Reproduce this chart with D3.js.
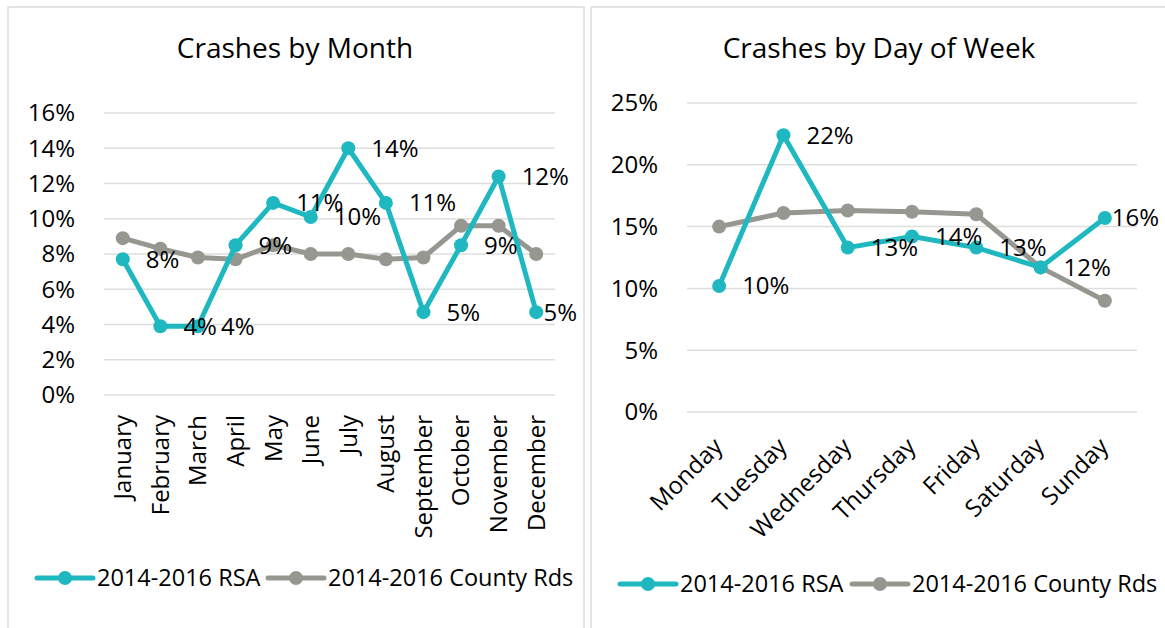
<!DOCTYPE html>
<html>
<head>
<meta charset="utf-8">
<script src="https://cdn.jsdelivr.net/npm/d3@7"></script>
<style>
  body { margin: 0; background: #fff; }
  svg text { font-family: "Open Sans", sans-serif; fill: #000; }
</style>
</head>
<body>
<svg id="chart" width="1165" height="628"></svg>
<script>
const months = ['January', 'February', 'March', 'April', 'May', 'June', 'July', 'August', 'September', 'October', 'November', 'December'];
const monthRSA = [7.7, 3.9, 3.9, 8.5, 10.9, 10.1, 14.0, 10.9, 4.7, 8.5, 12.4, 4.7];
const monthCounty = [8.9, 8.3, 7.8, 7.7, 8.5, 8.0, 8.0, 7.7, 7.8, 9.6, 9.6, 8.0];
const monthTicks = [0, 2, 4, 6, 8, 10, 12, 14, 16];

const days = ['Monday', 'Tuesday', 'Wednesday', 'Thursday', 'Friday', 'Saturday', 'Sunday'];
const dayRSA = [10.2, 22.4, 13.3, 14.2, 13.3, 11.7, 15.7];
const dayCounty = [15.0, 16.1, 16.3, 16.2, 16.0, 11.7, 9.0];
const dayTicks = [0, 5, 10, 15, 20, 25];

const seriesNames = ['2014-2016 RSA', '2014-2016 County Rds'];
const TEAL = '#1fb8c1';
const GRAY = '#979791';

const svg = d3.select('#chart');

// panel frames
svg.append('rect').attr('x', 8).attr('y', 7).attr('width', 576).attr('height', 640)
  .attr('fill', 'none').attr('stroke', '#dcdcdc').attr('stroke-width', 1.5);
svg.append('rect').attr('x', 591).attr('y', 7).attr('width', 600).attr('height', 640)
  .attr('fill', 'none').attr('stroke', '#dcdcdc').attr('stroke-width', 1.5);

function drawChart(cfg) {
  const g = svg.append('g');
  const x = d3.scaleBand().domain(cfg.categories).range([cfg.left, cfg.right]).padding(0);
  const y = d3.scaleLinear().domain([0, d3.max(cfg.ticks)]).range([cfg.bottom, cfg.top]);
  const cx = d => x(d) + x.bandwidth() / 2;

  g.append('text').attr('x', cfg.titleX).attr('y', 58).attr('text-anchor', 'middle')
    .style('font-size', '28px').text(cfg.title);

  // gridlines + y labels
  g.selectAll('.grid').data(cfg.ticks).enter().append('line')
    .attr('x1', cfg.left).attr('x2', cfg.right)
    .attr('y1', d => y(d)).attr('y2', d => y(d))
    .attr('stroke', '#dedede').attr('stroke-width', 1.5);
  g.selectAll('.ylab').data(cfg.ticks).enter().append('text')
    .attr('x', cfg.yLabelX).attr('y', d => y(d)).attr('dy', '0.35em')
    .attr('text-anchor', 'end').style('font-size', '24px')
    .text(d => d + '%');

  // category labels
  g.selectAll('.xlab').data(cfg.categories).enter().append('text')
    .attr('transform', d => `translate(${cx(d) + cfg.xLabDx},${cfg.xLabY}) rotate(${cfg.rotate})`)
    .attr('dy', '0.35em').attr('text-anchor', 'end').style('font-size', '24px')
    .text(d => d);

  const line = d3.line().x((d, i) => cx(cfg.categories[i])).y(d => y(d));
  const series = [
    { values: cfg.county, color: GRAY },
    { values: cfg.rsa, color: TEAL }
  ];
  series.forEach(s => {
    g.append('path').datum(s.values).attr('d', line)
      .attr('fill', 'none').attr('stroke', s.color).attr('stroke-width', 5)
      .attr('stroke-linejoin', 'round').attr('stroke-linecap', 'round');
    g.selectAll(null).data(s.values).enter().append('circle')
      .attr('cx', (d, i) => cx(cfg.categories[i])).attr('cy', d => y(d))
      .attr('r', 7).attr('fill', s.color);
  });

  // data labels on the RSA series
  g.selectAll('.dlab').data(cfg.rsa).enter().append('text')
    .attr('y', d => y(d)).attr('dy', '0.35em').style('font-size', '24px')
    .text(d => Math.round(d) + '%')
    .attr('x', function (d, i) {
      const w = this.getComputedTextLength();
      return Math.min(cx(cfg.categories[i]) + 23, cfg.labelMax - w);
    });

  // legend
  const items = [
    { name: seriesNames[0], color: TEAL, x: cfg.legendX[0] },
    { name: seriesNames[1], color: GRAY, x: cfg.legendX[1] }
  ];
  items.forEach(it => {
    const lg = g.append('g').attr('transform', `translate(${it.x},${cfg.legendY})`);
    lg.append('line').attr('x1', 0).attr('x2', 56).attr('y1', 0).attr('y2', 0)
      .attr('stroke', it.color).attr('stroke-width', 5).attr('stroke-linecap', 'round');
    lg.append('circle').attr('cx', 28).attr('cy', 0).attr('r', 7).attr('fill', it.color);
    lg.append('text').attr('x', 60).attr('y', 0).attr('dy', '0.35em')
      .style('font-size', '23.5px').text(it.name);
  });
}

drawChart({
  title: 'Crashes by Month', titleX: 295,
  categories: months, rsa: monthRSA, county: monthCounty, ticks: monthTicks,
  left: 104, right: 555, top: 113, bottom: 395, yLabelX: 75,
  xLabY: 415, xLabDx: 0, rotate: -90, labelMax: 577,
  legendX: [37, 268], legendY: 578
});

drawChart({
  title: 'Crashes by Day of Week', titleX: 879,
  categories: days, rsa: dayRSA, county: dayCounty, ticks: dayTicks,
  left: 687, right: 1137, top: 103, bottom: 412, yLabelX: 658,
  xLabY: 442, xLabDx: -1, rotate: -45, labelMax: 1159,
  legendX: [620, 852], legendY: 584
});
</script>
</body>
</html>
